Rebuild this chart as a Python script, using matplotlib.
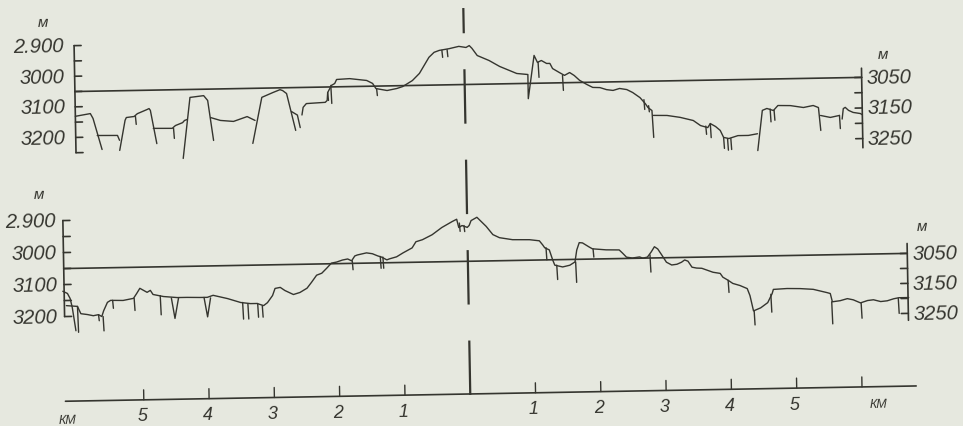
import numpy as np
import matplotlib
matplotlib.use("Agg")
import matplotlib.pyplot as plt
from matplotlib.transforms import Affine2D

# ---------------------------------------------------------------- data
# distances in km from the centre line, depths in metres
REF_DEPTH = 3050

top_strokes_km = [
    [-5.97, -5.74, -5.70, -5.57],
    [-5.64, -5.33, -5.30],
    [-5.30, -5.21, -5.19, -5.07, -5.02, -4.87, -4.84, -4.82, -4.73],
    [-4.78, -4.49, -4.44, -4.33, -4.30, -4.26],
    [-4.33, -4.21, -4.00, -3.94, -3.86],
    [-3.90, -3.75, -3.55, -3.34, -3.22],
    [-3.26, -3.11, -2.94, -2.83, -2.79, -2.73, -2.60],
    [-2.66, -2.57, -2.53],
    [-2.50, -2.48, -2.43, -2.14, -2.11, -2.10, -2.04, -1.99, -1.96, -1.76,
     -1.50, -1.41, -1.36, -1.19, -1.04, -0.95, -0.80, -0.69, -0.54, -0.46,
     -0.38, -0.23, -0.08, 0.03, 0.08, 0.12, 0.20, 0.38, 0.54, 0.80,
     0.97, 0.97, 1.07, 1.12, 1.18, 1.26, 1.31, 1.35, 1.45, 1.53,
     1.61, 1.68, 1.76, 1.87, 1.96, 2.07, 2.17, 2.27, 2.37, 2.48,
     2.57, 2.68, 2.76, 2.80, 2.86, 2.88],
    [2.88, 3.09, 3.29, 3.49, 3.60, 3.71, 3.75, 3.83, 3.90, 3.95, 4.03, 4.17, 4.33, 4.47],
    [4.47, 4.55, 4.62, 4.72, 4.79, 4.98, 5.18, 5.33, 5.41, 5.44],
    [5.44, 5.59, 5.73],
    [5.77, 5.79, 5.82, 5.87, 5.94, 6.05, 6.08],
]
top_strokes_m = [
    [3131, 3123, 3139, 3241],
    [3195, 3196, 3212],
    [3245, 3147, 3138, 3135, 3126, 3113, 3110, 3116, 3225],
    [3175, 3176, 3167, 3158, 3151, 3148],
    [3275, 3076, 3071, 3087, 3218],
    [3143, 3153, 3157, 3142, 3155],
    [3230, 3080, 3065, 3056, 3059, 3069, 3190],
    [3128, 3140, 3181],
    [3140, 3115, 3103, 3100, 3094, 3068, 3045, 3039, 3026, 3024,
     3031, 3041, 3058, 3065, 3059, 3053, 3034, 3011, 2959, 2943,
     2937, 2932, 2925, 2929, 2923, 2932, 2956, 2973, 2993, 3017,
     3021, 3100, 2959, 2982, 2976, 2986, 2986, 3003, 3016, 3026,
     3017, 3027, 3043, 3057, 3067, 3068, 3075, 3078, 3072, 3076,
     3086, 3103, 3123, 3136, 3146, 3234],
    [3162, 3163, 3170, 3181, 3198, 3205, 3192, 3202, 3215, 3238, 3242, 3233, 3233, 3228],
    [3283, 3152, 3146, 3153, 3137, 3138, 3145, 3139, 3146, 3221],
    [3172, 3179, 3173],
    [3185, 3151, 3147, 3157, 3164, 3168, 3172],
]
top_spike_km = [-5.05, -4.47, -2.10, -2.05, -1.35, -0.34, -0.26, 1.13, 1.50, 2.74,
                2.81, 3.68, 3.75, 3.95, 4.01, 4.06, 4.67, 4.73, 5.73]
top_spike_from = [3135, 3176, 3068, 3045, 3058, 2937, 2935, 2982, 3026, 3110,
                  3130, 3200, 3192, 3238, 3242, 3242, 3148, 3152, 3173]
top_spike_to = [3161, 3209, 3094, 3104, 3081, 2960, 2958, 3031, 3075, 3142,
                3150, 3227, 3238, 3274, 3280, 3278, 3190, 3185, 3216]

bot_strokes_km = [
    [-6.21, -6.14, -6.10, -6.07, -6.02],
    [-6.16, -5.99, -5.94, -5.84, -5.75, -5.67, -5.62, -5.59, -5.53, -5.48,
     -5.29, -5.13, -5.08, -5.03, -4.92, -4.87, -4.83, -4.67, -4.46, -4.31,
     -4.11, -4.00, -3.91, -3.69, -3.49, -3.34, -3.24, -3.14, -3.08, -3.00,
     -2.96, -2.88, -2.81, -2.68, -2.58, -2.47, -2.40, -2.32, -2.24, -2.16,
     -2.09, -2.01, -1.92, -1.84, -1.78, -1.73, -1.69, -1.55, -1.46, -1.38,
     -1.32, -1.24, -1.20, -1.09, -0.99, -0.85, -0.79, -0.69, -0.54, -0.39,
     -0.23, -0.16, -0.13, -0.08, 0.00, 0.03, 0.06, 0.15, 0.29, 0.39,
     0.49, 0.69, 0.95, 1.10, 1.15, 1.18, 1.25, 1.30, 1.33, 1.45,
     1.56, 1.64, 1.67, 1.71, 1.76, 1.86, 1.91, 2.12, 2.32, 2.37,
     2.43, 2.52, 2.63, 2.68, 2.75, 2.81, 2.86, 2.91, 2.97, 3.04,
     3.12, 3.20, 3.27, 3.32, 3.37, 3.43, 3.50, 3.58, 3.66, 3.75,
     3.86, 3.90, 3.98, 4.05, 4.16, 4.27, 4.31, 4.36, 4.47, 4.58,
     4.65, 4.67, 4.88, 5.08, 5.28, 5.49, 5.54, 5.57, 5.69, 5.80,
     5.89, 6.00, 6.11, 6.20, 6.31, 6.41, 6.51, 6.59, 6.74],
    [-4.55, -4.50, -4.44],
    [-4.05, -4.00, -3.95],
]
bot_strokes_m = [
    [3121, 3128, 3144, 3172, 3245],
    [3166, 3169, 3192, 3195, 3199, 3196, 3202, 3184, 3158, 3152,
     3153, 3147, 3132, 3116, 3129, 3123, 3136, 3143, 3147, 3147,
     3148, 3148, 3142, 3153, 3166, 3170, 3170, 3177, 3168, 3146,
     3124, 3121, 3131, 3144, 3138, 3125, 3107, 3085, 3079, 3063,
     3048, 3045, 3039, 3036, 3042, 3027, 3024, 3018, 3021, 3028,
     3032, 3041, 3038, 3032, 3020, 3005, 2986, 2980, 2965, 2943,
     2925, 2918, 2944, 2938, 2944, 2938, 2923, 2913, 2942, 2968,
     2978, 2985, 2986, 2990, 3003, 3012, 3019, 3051, 3067, 3073,
     3068, 3058, 3021, 2998, 2999, 3012, 3018, 3022, 3023, 3033,
     3046, 3049, 3046, 3050, 3047, 3031, 3015, 3022, 3041, 3064,
     3073, 3071, 3065, 3058, 3062, 3081, 3084, 3085, 3091, 3098,
     3102, 3114, 3124, 3134, 3141, 3151, 3173, 3221, 3212, 3196,
     3168, 3155, 3153, 3154, 3157, 3168, 3171, 3197, 3194, 3188,
     3192, 3202, 3195, 3193, 3199, 3197, 3191, 3188, 3188],
    [3148, 3212, 3148],
    [3148, 3209, 3150],
]
bot_spike_km = [-5.99, -5.67, -5.60, -5.45, -5.12, -4.72, -3.46, -3.38, -3.23, -3.16,
                -1.77, -1.34, -1.30, -0.12, -0.05, 1.20, 1.36, 1.65, 1.92, 2.79,
                3.98, 4.37, 4.63, 5.56, 6.01, 6.58]
bot_spike_from = [3169, 3196, 3202, 3152, 3147, 3140, 3166, 3170, 3170, 3177,
                  3042, 3030, 3032, 2930, 2938, 3012, 3067, 3058, 3018, 3040,
                  3124, 3221, 3170, 3197, 3202, 3190]
bot_spike_to = [3250, 3215, 3247, 3177, 3185, 3200, 3218, 3218, 3213, 3213,
                3070, 3067, 3067, 2956, 2957, 3050, 3112, 3122, 3044, 3094,
                3162, 3265, 3226, 3266, 3250, 3237]

# depth scales
top_left_ticks = [2900, 2950, 3000, 3050, 3100, 3150, 3200, 3250]
top_left_label_values = [2900, 3000, 3100, 3200]
bot_left_ticks = [2900, 2950, 3000, 3050, 3100, 3150, 3200]
bot_left_label_values = [2900, 3000, 3100, 3200]
left_label_texts = ["2.900", "3000", "3100", "3200"]
right_ticks = [3050, 3100, 3150, 3200, 3250]
right_label_values = [3050, 3150, 3250]
right_label_texts = ["3050", "3150", "3250"]
top_right_span = [3020, 3280]
bot_right_span = [3017, 3273]
unit_text = "м"

# distance scale
km_ticks = [-5, -4, -3, -2, -1, 1, 2, 3, 4, 5, 6]
km_label_values = [-5, -4, -3, -2, -1, 1, 2, 3, 4, 5]
km_unit = "КМ"

# ---------------------------------------------------------------- layout
W, H, DPI = 963, 426, 100
KM_PX = 65.3          # pixels per km
X0 = 467.0            # pixel column of the centre line
TILT = 1.03           # the scanned page is slightly rotated
INK = "#35352f"
PAPER = "#e6e8df"
FONT = ["Liberation Sans Narrow", "Liberation Sans", "DejaVu Sans"]

TOP_REF_PX, TOP_PPM_L, TOP_PPM_R = 84.5, 0.306, 0.306
BOT_REF_PX, BOT_PPM_L, BOT_PPM_R = 261.3, 0.32, 0.30
TOP_AXIS_KM = (-5.97, 6.08)
BOT_AXIS_KM = (-6.19, 6.73)
KM_LINE_PX = 394.0
KM_LINE_SPAN = (-6.20, 6.83)
TK = 7.0 / KM_PX      # depth tick length

fig = plt.figure(figsize=(W / DPI, H / DPI), dpi=DPI)
fig.patch.set_facecolor(PAPER)
ROT = Affine2D().rotate_deg_around(X0, H - 213, TILT)


def make_ax(ref_px, ppm):
    ax = fig.add_axes([0, 0, 1, 1])
    ax.set_xlim(-X0 / KM_PX, (W - X0) / KM_PX)
    ax.set_ylim(REF_DEPTH + (H - ref_px) / ppm, REF_DEPTH - ref_px / ppm)
    ax.axis("off")
    return ax


def draw(ax, x, y, lw=1.0, **kw):
    ax.plot(x, y, color=INK, lw=lw, transform=ax.transData + ROT,
            clip_on=False, solid_capstyle="round", solid_joinstyle="round", **kw)


def label(ax, x, y, s, dx=0, dy=0, size=14.5, ha="center", va="center"):
    ax.text(x, y, s, transform=ax.transData + Affine2D().translate(dx, -dy) + ROT,
            rotation=TILT, rotation_mode="anchor", ha=ha, va=va, fontsize=size,
            family=FONT, style="italic", color=INK)


def panel(ref_px, ppm_l, ppm_r, axis_km, left_ticks, left_vals, right_span,
          strokes_km, strokes_m, sp_km, sp_from, sp_to, lab_dx, unit_l, unit_r):
    axl = make_ax(ref_px, ppm_l)
    axr = make_ax(ref_px, ppm_r)
    lk, rk = axis_km
    # left scale
    draw(axl, [lk, lk], [left_ticks[0], left_ticks[-1]], lw=1.2)
    for t in left_ticks:
        draw(axl, [lk, lk + TK], [t, t], lw=1.2)
    for v, s in zip(left_vals, left_label_texts):
        label(axl, lk, v, s, dx=lab_dx, dy=1, ha="right")
    label(axl, lk, left_ticks[0], unit_text, dx=unit_l[0], dy=unit_l[1], size=11)
    # right scale
    draw(axr, [rk, rk], right_span, lw=1.2)
    for t in right_ticks:
        draw(axr, [rk - TK, rk], [t, t], lw=1.2)
    for v, s in zip(right_label_values, right_label_texts):
        label(axr, rk, v, s, dx=5, dy=1, ha="left")
    label(axr, rk, REF_DEPTH, unit_text, dx=unit_r[0], dy=unit_r[1], size=11)
    # reference level
    draw(axl, [lk, rk], [REF_DEPTH, REF_DEPTH], lw=1.2)
    # profile
    for xs, ys in zip(strokes_km, strokes_m):
        draw(axl, xs, ys, lw=1.0)
    for k, a, b in zip(sp_km, sp_from, sp_to):
        draw(axl, [k, k + 0.01], [a, b], lw=1.0)


panel(TOP_REF_PX, TOP_PPM_L, TOP_PPM_R, TOP_AXIS_KM, top_left_ticks,
      top_left_label_values, top_right_span, top_strokes_km, top_strokes_m,
      top_spike_km, top_spike_from, top_spike_to, -10, (-31, -23), (22, -22))
panel(BOT_REF_PX, BOT_PPM_L, BOT_PPM_R, BOT_AXIS_KM, bot_left_ticks,
      bot_left_label_values, bot_right_span, bot_strokes_km, bot_strokes_m,
      bot_spike_km, bot_spike_from, bot_spike_to, -7, (-23, -26), (15, -26))

# distance axis (vertical units: pixels above the km line)
kax = fig.add_axes([0, 0, 1, 1])
kax.set_xlim(-X0 / KM_PX, (W - X0) / KM_PX)
kax.set_ylim(-(H - KM_LINE_PX), KM_LINE_PX)
kax.axis("off")
draw(kax, list(KM_LINE_SPAN), [0, 0], lw=1.2)
for k in km_ticks:
    draw(kax, [k, k], [0, 10], lw=1.0)
for k in km_label_values:
    label(kax, k, 0, str(abs(k)), dx=-2, dy=17, size=13)
label(kax, -6.17, 0, km_unit, dy=20, size=9)
label(kax, 6.24, 0, km_unit, dy=18, size=9)
# broken centre line
kax.plot([0, 0], [-1, KM_LINE_PX - 8], color=INK, lw=1.6,
         linestyle=(0, (24.5, 16.2)), transform=kax.transData + ROT, clip_on=False)

fig.savefig("out.png", dpi=DPI, facecolor=PAPER)
